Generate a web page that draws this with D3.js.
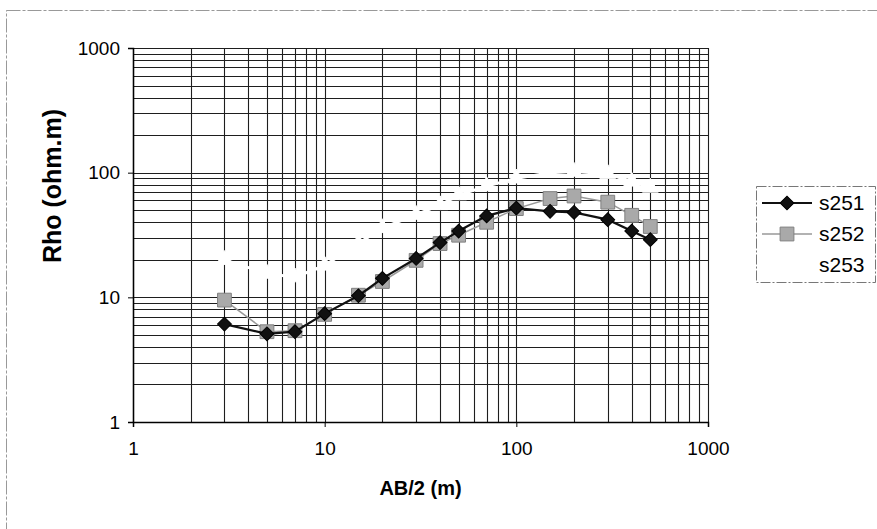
<!DOCTYPE html>
<html>
<head>
    <title>Rho - AB/2</title>
    <script type='text/javascript' src='https://cdn.jsdelivr.net/npm/d3@7/dist/d3.min.js'></script>
    <style>
        body{
            margin:0;
            background-color:#fff;
        }
        text {
            font-family:'Liberation Sans', Arial, sans-serif;
            fill:#000;
        }
    </style>
</head>
<body>

<svg id="svg" width="877" height="529"></svg>

<script>

// AB/2 spacings (m)
var ab2 = [3, 5, 7, 10, 15, 20, 30, 40, 50, 70, 100, 150, 200, 300, 400, 500];

// apparent resistivity (ohm.m)
var s251 = [6.1, 5.1, 5.3, 7.4, 10.3, 14.2, 20.5, 27.5, 34, 45, 52, 49, 48, 42, 34, 29];
var s252 = [9.5, 5.3, 5.4, 7.3, 10.4, 13.4, 19.8, 27, 31.5, 40, 51.5, 62, 65, 58, 45.5, 37];
var s253 = [20, 15.5, 14.5, 18, 27, 36, 46, 55, 66, 78, 90, 100, 102, 98, 85, 76];

var series_names = ['s251', 's252', 's253'];
var tick_values = [1, 10, 100, 1000];

var svg = d3.select('#svg');
var plot = {left: 133, right: 708, top: 48, bottom: 422};

// outer chart border (scan edge)
svg.append('rect')
    .attr('x', 6.5).attr('y', 10.5)
    .attr('width', 900).attr('height', 560)
    .attr('fill', 'none')
    .attr('stroke', '#999')
    .attr('stroke-dasharray', '14,2,3,2');

var x = d3.scaleLog().domain([1, 1000]).range([plot.left, plot.right]);
var y = d3.scaleLog().domain([1, 1000]).range([plot.bottom, plot.top]);

// all decade + minor values for the grid
var grid_vals = [];
for (var d = 1; d < 1000; d *= 10){
    for (var m = 1; m < 10; m++){
        grid_vals.push(d * m);
    }
}
grid_vals.push(1000);

var grid = svg.append('g').attr('class', 'grid');
grid.selectAll('line.v').data(grid_vals).enter().append('line')
    .attr('class', 'v')
    .attr('x1', function(d){ return Math.round(x(d)) + 0.5; })
    .attr('x2', function(d){ return Math.round(x(d)) + 0.5; })
    .attr('y1', plot.top).attr('y2', plot.bottom)
    .attr('stroke', '#1e1e1e')
    .attr('stroke-width', 1.1);
grid.selectAll('line.h').data(grid_vals).enter().append('line')
    .attr('class', 'h')
    .attr('y1', function(d){ return Math.round(y(d)) + 0.5; })
    .attr('y2', function(d){ return Math.round(y(d)) + 0.5; })
    .attr('x1', plot.left).attr('x2', plot.right)
    .attr('stroke', '#1e1e1e')
    .attr('stroke-width', 1.1);

// axes
var xAxis = d3.axisBottom(x).tickValues(tick_values).tickFormat(d3.format('d')).tickSize(5).tickPadding(15);
var yAxis = d3.axisLeft(y).tickValues(tick_values).tickFormat(d3.format('d')).tickSize(5).tickPadding(8);

var gx = svg.append('g').attr('transform', 'translate(0,' + plot.bottom + ')').call(xAxis);
var gy = svg.append('g').attr('transform', 'translate(' + plot.left + ',0)').call(yAxis);
[gx, gy].forEach(function(g){
    g.select('.domain').attr('stroke', '#000').attr('stroke-width', 1.5);
    g.selectAll('.tick line').attr('stroke', '#000');
    g.selectAll('.tick text').style('font-size', '19px').attr('fill', '#000');
});

// axis titles
svg.append('text')
    .attr('x', (plot.left + plot.right) / 2).attr('y', 495)
    .attr('text-anchor', 'middle')
    .style('font-size', '20px').style('font-weight', 'bold')
    .text('AB/2 (m)');
svg.append('text')
    .attr('transform', 'translate(61,186) rotate(-90)')
    .attr('text-anchor', 'middle')
    .style('font-size', '25px').style('font-weight', 'bold')
    .text('Rho (ohm.m)');

var line = d3.line()
    .x(function(d){ return x(d[0]); })
    .y(function(d){ return y(d[1]); });

function pairs(vals){
    return ab2.map(function(a, i){ return [a, vals[i]]; });
}

var styles = [
    {vals: s251, stroke: '#111', width: 2.2, symbol: d3.symbolSquare, rot: 45, size: 95, fill: '#111', mstroke: '#000'},
    {vals: s252, stroke: '#999', width: 1.5, symbol: d3.symbolSquare, rot: 0, size: 190, fill: '#a9a9a9', mstroke: '#808080'},
    {vals: s253, stroke: '#fff', width: 3, symbol: d3.symbolTriangle, rot: 0, size: 110, fill: '#fff', mstroke: '#fff'}
];

// draw white series first, then grey, then black on top
[2, 1, 0].forEach(function(i){
    var s = styles[i];
    var g = svg.append('g').attr('class', 'series ' + series_names[i]);
    g.append('path')
        .datum(pairs(s.vals))
        .attr('d', line)
        .attr('fill', 'none')
        .attr('stroke', s.stroke)
        .attr('stroke-width', s.width);
    g.selectAll('path.mark').data(pairs(s.vals)).enter().append('path')
        .attr('class', 'mark')
        .attr('d', d3.symbol().type(s.symbol).size(s.size))
        .attr('transform', function(d){ return 'translate(' + x(d[0]) + ',' + y(d[1]) + ') rotate(' + s.rot + ')'; })
        .attr('fill', s.fill)
        .attr('stroke', s.mstroke)
        .attr('stroke-width', 1);
});

// legend
var legend = svg.append('g').attr('class', 'legend');
legend.append('rect')
    .attr('x', 756.5).attr('y', 186.5)
    .attr('width', 119).attr('height', 96)
    .attr('fill', '#fff')
    .attr('stroke', '#777')
    .attr('stroke-dasharray', '10,2,2,2');

var rows = legend.selectAll('g.row').data(styles).enter().append('g')
    .attr('class', 'row')
    .attr('transform', function(d, i){ return 'translate(0,' + (203 + i * 31) + ')'; });
rows.append('line')
    .attr('x1', 762).attr('x2', 812).attr('y1', 0).attr('y2', 0)
    .attr('stroke', function(d){ return d.stroke; })
    .attr('stroke-width', function(d){ return d.width; });
rows.append('path')
    .attr('d', function(d){ return d3.symbol().type(d.symbol).size(d.size)(); })
    .attr('transform', function(d){ return 'translate(787,0) rotate(' + d.rot + ')'; })
    .attr('fill', function(d){ return d.fill; })
    .attr('stroke', function(d){ return d.mstroke; });
rows.append('text')
    .attr('x', 819).attr('y', 0).attr('dy', '0.35em')
    .style('font-size', '21px')
    .text(function(d, i){ return series_names[i]; });

</script>
</body>
</html>
